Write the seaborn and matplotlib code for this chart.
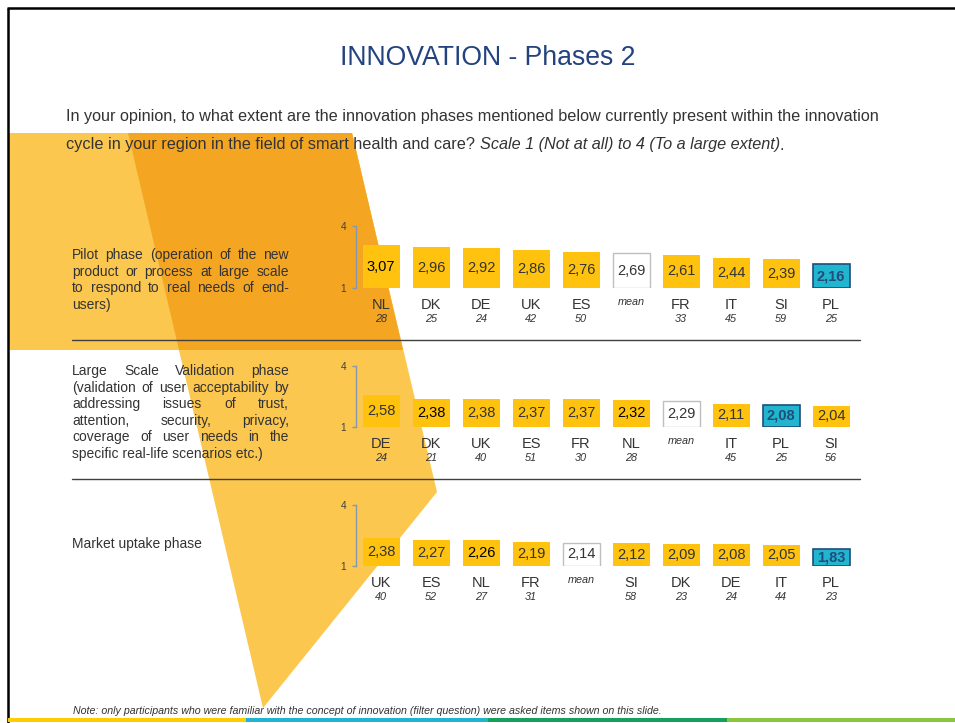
import numpy as np
import matplotlib
matplotlib.use("Agg")
import matplotlib.pyplot as plt
import matplotlib.transforms as mtransforms
from matplotlib.patches import Polygon, Rectangle
import seaborn as sns

# --- data -------------------------------------------------------------
pilot_countries = ["NL", "DK", "DE", "UK", "ES", "mean", "FR", "IT", "SI", "PL"]
pilot_values = [3.07, 2.96, 2.92, 2.86, 2.76, 2.69, 2.61, 2.44, 2.39, 2.16]
pilot_n = ["28", "25", "24", "42", "50", "", "33", "45", "59", "25"]

lsv_countries = ["DE", "DK", "UK", "ES", "FR", "NL", "mean", "IT", "PL", "SI"]
lsv_values = [2.58, 2.38, 2.38, 2.37, 2.37, 2.32, 2.29, 2.11, 2.08, 2.04]
lsv_n = ["24", "21", "40", "51", "30", "28", "", "45", "25", "56"]

market_countries = ["UK", "ES", "NL", "FR", "mean", "SI", "DK", "DE", "IT", "PL"]
market_values = [2.38, 2.27, 2.26, 2.19, 2.14, 2.12, 2.09, 2.08, 2.05, 1.83]
market_n = ["40", "52", "27", "31", "", "58", "23", "24", "44", "23"]

pilot_label = ["Pilot phase (operation of the new",
               "product or process at large scale",
               "to respond to real needs of end-",
               "users)"]
lsv_label = ["Large Scale Validation phase",
             "(validation of user acceptability by",
             "addressing issues of trust,",
             "attention, security, privacy,",
             "coverage of user needs in the",
             "specific real-life scenarios etc.)"]
market_label = ["Market uptake phase"]

YELLOW = "#FFC20E"
TEAL = "#22B5CF"
NAVY = "#1F4E79"
TXT = "#333333"

sns.set_theme(style="white")
plt.rcParams["font.family"] = ["Liberation Sans", "DejaVu Sans"]

W, H = 955, 723
fig = plt.figure(figsize=(W / 100, H / 100), dpi=100)
fig.patch.set_facecolor("white")

# background axes in pixel coordinates
bg = fig.add_axes([0, 0, 1, 1], zorder=0)
bg.set_xlim(0, W)
bg.set_ylim(H, 0)
bg.axis("off")

light = "#FBC74E"
dark = "#F4A623"
bg.add_patch(Polygon([(8, 133), (352, 133), (403, 350), (8, 350)], closed=True,
                     facecolor=light, edgecolor="none", zorder=0))
bg.add_patch(Polygon([(128, 133), (352, 133), (437, 492), (263, 708)], closed=True,
                     facecolor=light, edgecolor="none", zorder=0))
bg.add_patch(Polygon([(128, 133), (352, 133), (403, 350), (179, 350)], closed=True,
                     facecolor=dark, edgecolor="none", zorder=0.5))

# frame and bottom colour strip
bg.plot([8, 8], [8, 723], color="black", lw=1.8, zorder=3, solid_capstyle="butt")
bg.plot([7, 955], [8, 8], color="black", lw=1.8, zorder=3, solid_capstyle="butt")
for x0, x1, c in [(8, 246, "#FFCC00"), (246, 488, "#1FB4CF"),
                  (488, 727, "#16A05D"), (727, 955, "#8CC63F")]:
    bg.add_patch(Rectangle((x0, 718), x1 - x0, 4, facecolor=c, edgecolor="none", zorder=3))

renderer = fig.canvas.get_renderer()


def text_width(s, **kw):
    t = bg.text(0, 0, s, **kw)
    w = t.get_window_extent(renderer).width
    t.remove()
    return w


def justified(lines, x0, x1, y0, step, **kw):
    for k, line in enumerate(lines):
        y = y0 + k * step
        words = line.split()
        if k == len(lines) - 1 or len(words) == 1:
            bg.text(x0, y, line, va="center", ha="left", zorder=2, **kw)
            continue
        widths = [text_width(w, **kw) for w in words]
        gap = (x1 - x0 - sum(widths)) / (len(words) - 1)
        x = x0
        for w, wd in zip(words, widths):
            bg.text(x, y, w, va="center", ha="left", zorder=2, **kw)
            x += wd + gap


# title and question
bg.text(488, 58, "INNOVATION - Phases 2", ha="center", va="center",
        fontsize=19.2, color="#23437E")
q_kw = dict(fontsize=11.7, color=TXT)
bg.text(66, 117, "In your opinion, to what extent are the innovation phases mentioned below "
        "currently present within the innovation", va="center", **q_kw)
part1 = "cycle in your region in the field of smart health and care? "
part2 = "Scale 1 (Not at all) to 4 (To a large extent)"
bg.text(66, 145, part1, va="center", zorder=2, **q_kw)
x2 = 66 + text_width(part1, **q_kw)
bg.text(x2, 145, part2, va="center", style="italic", zorder=2, **q_kw)
bg.text(x2 + text_width(part2, style="italic", **q_kw), 145, ".", va="center", zorder=2, **q_kw)

lab_kw = dict(fontsize=10.0, color=TXT)
justified(pilot_label, 72, 289, 255, 16.6, **lab_kw)
justified(lsv_label, 72, 289, 371, 16.6, **lab_kw)
justified(market_label, 72, 289, 544, 16.6, **lab_kw)

# separators
for y in (340, 479):
    bg.plot([72, 860], [y, y], color="#404040", lw=1, zorder=2)

bg.text(73, 711, "Note: only participants who were familiar with the concept of innovation "
        "(filter question) were asked items shown on this slide.",
        fontsize=7.7, style="italic", color=TXT, va="center", zorder=2)

# --- panels -----------------------------------------------------------
panels = [
    (pilot_countries, pilot_values, pilot_n, 288, 226, {"NL"}),
    (lsv_countries, lsv_values, lsv_n, 426.7, 366, {"DK", "NL"}),
    (market_countries, market_values, market_n, 566, 505, {"NL"}),
]

for countries, values, ns, y1, y4, emph in panels:
    ax = fig.add_axes([356 / W, (H - y1) / H, 500 / W, (y1 - y4) / H], zorder=2)
    ax.set_facecolor("none")
    pal = {c: (TEAL if c == "PL" else "white" if c == "mean" else YELLOW) for c in countries}
    sns.barplot(x=countries, y=np.array(values) - 1, hue=countries, palette=pal,
                order=countries, hue_order=countries, saturation=1, width=0.74,
                bottom=1, legend=False, ax=ax)
    for p in ax.patches:
        i = int(round(p.get_x() + p.get_width() / 2))
        c = countries[i]
        if c == "mean":
            p.set_edgecolor("#BFBFBF")
            p.set_linewidth(1)
        elif c == "PL":
            p.set_edgecolor(NAVY)
            p.set_linewidth(1.2)
        else:
            p.set_edgecolor("none")
    ax.set_xlim(-0.5, len(countries) - 0.5)
    ax.set_ylim(1, 4)
    ax.set_yticks([1, 4])
    ax.set_yticklabels(["1", "4"])
    ax.tick_params(axis="y", left=True, length=3, width=1, color="#8497B0",
                   labelsize=7.3, labelcolor="#404040", pad=4)
    ax.tick_params(axis="x", bottom=False, labelbottom=False)
    ax.set_xlabel("")
    ax.set_ylabel("")
    sns.despine(ax=ax, top=True, right=True, bottom=True)
    ax.spines["left"].set_color("#8497B0")
    ax.spines["left"].set_linewidth(1)

    lab_tr = mtransforms.offset_copy(ax.get_xaxis_transform(), fig=fig, y=-17, units="dots")
    mean_tr = mtransforms.offset_copy(ax.get_xaxis_transform(), fig=fig, y=-14, units="dots")
    n_tr = mtransforms.offset_copy(ax.get_xaxis_transform(), fig=fig, y=-31.5, units="dots")
    for i, (c, v, n) in enumerate(zip(countries, values, ns)):
        lbl = f"{v:.2f}".replace(".", ",")
        if c == "PL":
            ax.text(i, (1 + v) / 2, lbl, ha="center", va="center", fontsize=10.5,
                    fontweight="bold", color=NAVY)
        else:
            ax.text(i, (1 + v) / 2, lbl, ha="center", va="center", fontsize=10.5,
                    color="black" if c in emph else TXT)
        if c == "mean":
            ax.text(i, 0, "mean", transform=mean_tr, ha="center", va="center",
                    fontsize=7.8, style="italic", color=TXT, clip_on=False)
        else:
            ax.text(i, 0, c, transform=lab_tr, ha="center", va="center",
                    fontsize=10.5, color=TXT, clip_on=False)
            ax.text(i, 0, n, transform=n_tr, ha="center", va="center",
                    fontsize=7.8, style="italic", color=TXT, clip_on=False)

fig.savefig("out.png", dpi=100)
